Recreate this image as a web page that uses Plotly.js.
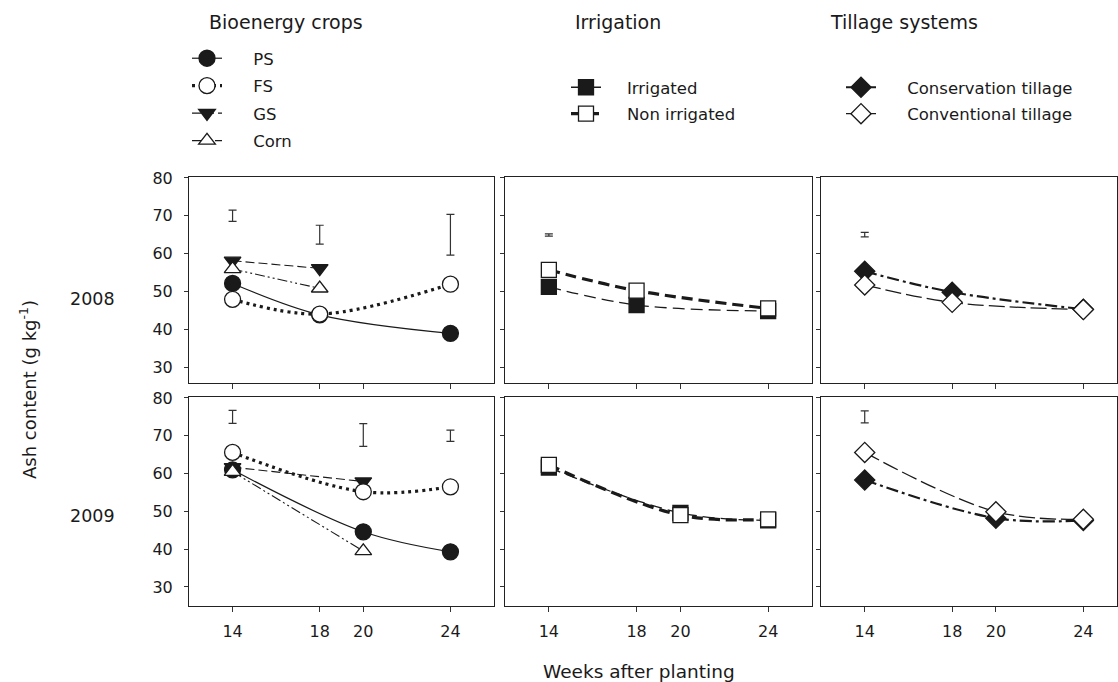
<!DOCTYPE html>
<html>
<head>
<meta charset="utf-8">
<script src="https://cdn.plot.ly/plotly-3.0.1.min.js"></script>
<style>html,body{margin:0;padding:0;background:#fff;}#chart{width:1118px;height:682px;}</style>
</head>
<body>
<div id="chart"></div>
<script>
// ---------- data ----------
var weeks2008 = [14, 18, 24];
var weeks2009 = [14, 20, 24];
var weeks2008short = [14, 18];
var weeks2009short = [14, 20];
var weekTicks = [14, 18, 20, 24];
var ashTicks = [30, 40, 50, 60, 70, 80];

var ps2008 = [52.1, 43.8, 38.9];
var fs2008 = [47.9, 44.0, 51.9];
var gs2008 = [58.1, 56.1];
var corn2008 = [55.9, 50.8];
var ps2009 = [61.0, 44.6, 39.3];
var fs2009 = [65.6, 55.2, 56.5];
var gs2009 = [61.7, 57.9];
var corn2009 = [60.5, 39.5];

var irrigated2008 = [51.2, 46.4, 44.8];
var nonIrrigated2008 = [55.7, 50.2, 45.5];
var irrigated2009 = [61.6, 49.6, 47.6];
var nonIrrigated2009 = [62.3, 49.0, 47.9];

var conservation2008 = [55.3, 49.8, 45.3];
var conventional2008 = [51.7, 47.1, 45.2];
var conservation2009 = [58.3, 48.2, 47.6];
var conventional2009 = [65.6, 49.9, 47.9];

// LSD bars (centre and half length)
var lsdBioX2008 = [14, 18, 24], lsdBioY2008 = [70.0, 65.0, 65.0], lsdBioH2008 = [1.5, 2.5, 5.4];
var lsdBioX2009 = [14, 20, 24], lsdBioY2009 = [75.0, 70.2, 70.0], lsdBioH2009 = [1.7, 3.0, 1.5];
var lsdIrrX2008 = [14], lsdIrrY2008 = [64.9], lsdIrrH2008 = [0.3];
var lsdTilX2008 = [14], lsdTilY2008 = [65.0], lsdTilH2008 = [0.6];
var lsdTilX2009 = [14], lsdTilY2009 = [75.0], lsdTilH2009 = [1.6];

// ---------- styling helpers ----------
var FONT = 'DejaVu Sans, Arial, sans-serif';
var INK = '#1a1a1a';
var W = 1118, H = 682;
function px(x) { return x / W; }
function py(y) { return 1 - y / H; }
// gap between legend symbol and its label
function pad(n) { return new Array(n + 1).join('\u00a0'); }

function series(x, y, ax, name, label, leg, rank, sym, fill, size, dash, lw, show) {
  return {
    type: 'scatter', mode: 'lines+markers', x: x, y: y,
    xaxis: 'x' + ax, yaxis: 'y' + ax, name: label,
    legend: leg, legendgroup: name, legendrank: rank, showlegend: show,
    line: {shape: 'spline', color: INK, width: lw, dash: dash},
    marker: {symbol: sym, size: size, color: fill, line: {color: INK, width: 1.3}},
    cliponaxis: false
  };
}
function lsd(x, y, h, ax) {
  return {
    type: 'scatter', mode: 'markers', x: x, y: y, xaxis: 'x' + ax, yaxis: 'y' + ax,
    showlegend: false, hoverinfo: 'skip',
    marker: {size: 1, color: 'rgba(0,0,0,0)'},
    error_y: {type: 'data', array: h, symmetric: true, color: '#333', thickness: 1.2, width: 4}
  };
}

var dPS = 'solid', dFS = '3px,4px', dGS = '9px,4px', dCorn = '10px,3px,2px,3px,2px,3px';
var dIrr = '12px,6px', dNon = '11px,6px', dCons = '12px,4px,3px,4px', dConv = '16px,5px';

var p1 = pad(5), p2 = pad(4), p3 = pad(5);

var traces = [
  // Bioenergy 2008 (panel 1)
  series(weeks2008, ps2008, '', 'PS', p1 + 'PS', 'legend', 1, 'circle', INK, 16, dPS, 1.2, true),
  series(weeks2008short, gs2008, '', 'GS', p1 + 'GS', 'legend', 3, 'triangle-down', INK, 14.5, dGS, 1.1, true),
  series(weeks2008short, corn2008, '', 'Corn', p1 + 'Corn', 'legend', 4, 'triangle-up', '#fff', 14.5, dCorn, 1.1, true),
  series(weeks2008, fs2008, '', 'FS', p1 + 'FS', 'legend', 2, 'circle', '#fff', 16, dFS, 3.2, true),
  lsd(lsdBioX2008, lsdBioY2008, lsdBioH2008, ''),
  // Irrigation 2008 (panel 2)
  series(weeks2008, irrigated2008, '2', 'Irrigated', p2 + 'Irrigated', 'legend2', 1, 'square', INK, 15, dIrr, 1.3, true),
  series(weeks2008, nonIrrigated2008, '2', 'Non irrigated', p2 + 'Non irrigated', 'legend2', 2, 'square', '#fff', 15, dNon, 3.2, true),
  lsd(lsdIrrX2008, lsdIrrY2008, lsdIrrH2008, '2'),
  // Tillage 2008 (panel 3)
  series(weeks2008, conservation2008, '3', 'Conservation tillage', p3 + 'Conservation tillage', 'legend3', 1, 'diamond', INK, 15.5, dCons, 2.2, true),
  series(weeks2008, conventional2008, '3', 'Conventional tillage', p3 + 'Conventional tillage', 'legend3', 2, 'diamond', '#fff', 15.5, dConv, 1.3, true),
  lsd(lsdTilX2008, lsdTilY2008, lsdTilH2008, '3'),
  // Bioenergy 2009 (panel 4)
  series(weeks2009, ps2009, '4', 'PS', 'PS', 'legend', 1, 'circle', INK, 16, dPS, 1.2, false),
  series(weeks2009short, gs2009, '4', 'GS', 'GS', 'legend', 3, 'triangle-down', INK, 14.5, dGS, 1.1, false),
  series(weeks2009short, corn2009, '4', 'Corn', 'Corn', 'legend', 4, 'triangle-up', '#fff', 14.5, dCorn, 1.1, false),
  series(weeks2009, fs2009, '4', 'FS', 'FS', 'legend', 2, 'circle', '#fff', 16, dFS, 3.2, false),
  lsd(lsdBioX2009, lsdBioY2009, lsdBioH2009, '4'),
  // Irrigation 2009 (panel 5)
  series(weeks2009, irrigated2009, '5', 'Irrigated', 'Irrigated', 'legend2', 1, 'square', INK, 15, dIrr, 1.3, false),
  series(weeks2009, nonIrrigated2009, '5', 'Non irrigated', 'Non irrigated', 'legend2', 2, 'square', '#fff', 15, dNon, 3.2, false),
  // Tillage 2009 (panel 6)
  series(weeks2009, conservation2009, '6', 'Conservation tillage', 'Conservation tillage', 'legend3', 1, 'diamond', INK, 15.5, dCons, 2.2, false),
  series(weeks2009, conventional2009, '6', 'Conventional tillage', 'Conventional tillage', 'legend3', 2, 'diamond', '#fff', 15.5, dConv, 1.3, false),
  lsd(lsdTilX2009, lsdTilY2009, lsdTilH2009, '6')
];

// ---------- axes ----------
var colX = [[189, 494], [505, 812], [821, 1117]];
var rowY = [[177, 383], [397, 606]];
var yRanges = [[25.77, 80.26], [24.97, 80.26]];
var xRanges = [[12, 26], [12, 26], [12, 25.54]];

var legendFont = {family: FONT, size: 16.5, color: INK};
var layout = {
  width: W, height: H,
  margin: {l: 0, r: 0, t: 0, b: 0},
  paper_bgcolor: '#fff', plot_bgcolor: '#fff',
  font: {family: FONT, size: 16, color: INK},
  showlegend: true,
  annotations: [],
  legend: {x: px(187), y: py(41), xanchor: 'left', yanchor: 'top', bgcolor: 'rgba(0,0,0,0)',
           font: legendFont, itemwidth: 30, tracegroupgap: 3, traceorder: 'grouped'},
  legend2: {x: px(566), y: py(70), xanchor: 'left', yanchor: 'top', bgcolor: 'rgba(0,0,0,0)',
            font: legendFont, itemwidth: 30, tracegroupgap: 2, traceorder: 'grouped'},
  legend3: {x: px(841), y: py(70), xanchor: 'left', yanchor: 'top', bgcolor: 'rgba(0,0,0,0)',
            font: legendFont, itemwidth: 30, tracegroupgap: 2, traceorder: 'grouped'}
};

for (var r = 0; r < 2; r++) {
  for (var c = 0; c < 3; c++) {
    var n = r * 3 + c + 1;
    var xk = n === 1 ? 'xaxis' : 'xaxis' + n;
    var yk = n === 1 ? 'yaxis' : 'yaxis' + n;
    var yid = n === 1 ? 'y' : 'y' + n;
    var xid = n === 1 ? 'x' : 'x' + n;
    layout[xk] = {
      domain: [px(colX[c][0]), px(colX[c][1])], anchor: yid,
      range: xRanges[c], tickvals: weekTicks, ticktext: weekTicks.map(String),
      ticks: 'outside', ticklen: 5, tickwidth: 1, tickcolor: '#333',
      showline: true, mirror: true, linecolor: '#222', linewidth: 1,
      showgrid: false, zeroline: false, fixedrange: true,
      showticklabels: r === 1, ticklabelstandoff: 6,
      tickfont: {family: FONT, size: 16, color: INK}
    };
    layout[yk] = {
      domain: [py(rowY[r][1]), py(rowY[r][0])], anchor: xid,
      range: yRanges[r], tickvals: ashTicks, ticktext: ashTicks.map(String),
      ticks: 'outside', ticklen: 4, tickwidth: 1, tickcolor: '#333',
      showline: true, mirror: true, linecolor: '#222', linewidth: 1,
      showgrid: false, zeroline: false, fixedrange: true,
      showticklabels: c === 0, ticklabelstandoff: 8,
      tickfont: {family: FONT, size: 16, color: INK}
    };
  }
}

function note(text, x, y, xanchor, size, angle) {
  return {text: text, x: px(x), y: py(y), xref: 'paper', yref: 'paper',
          xanchor: xanchor, yanchor: 'middle', showarrow: false, textangle: angle || 0,
          font: {family: FONT, size: size, color: INK}};
}
layout.annotations.push(
  note('Bioenergy crops', 207, 22, 'left', 19),
  note('Irrigation', 573, 22, 'left', 19),
  note('Tillage systems', 828, 22, 'left', 19),
  note('2008', 92, 299, 'center', 17.5),
  note('2009', 92, 516, 'center', 17.5),
  note('Weeks after planting', 639, 671, 'center', 18.5),
  note('Ash content (g kg<sup>-1</sup>)', 28, 390, 'center', 18, -90)
);

Plotly.newPlot('chart', traces, layout, {displayModeBar: false, staticPlot: true});
</script>
</body>
</html>
